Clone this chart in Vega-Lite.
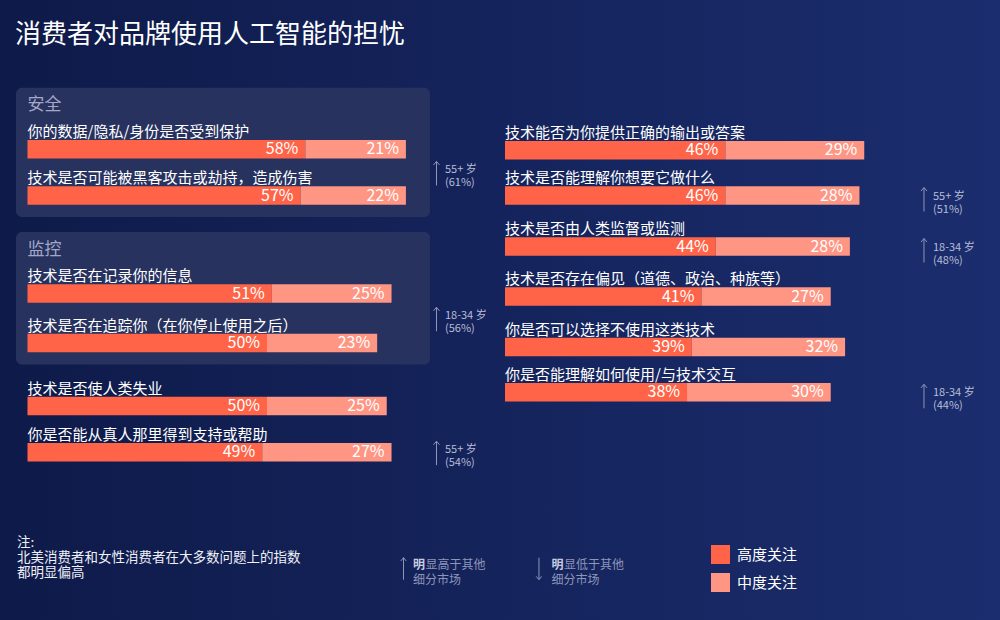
{
  "$schema": "https://vega.github.io/schema/vega-lite/v6.json",
  "width": 1000,
  "height": 620,
  "autosize": "none",
  "padding": 0,
  "background": "#13215a",
  "view": {"fill": {"gradient": "linear", "x1": 0, "y1": 0, "x2": 1, "y2": 0, "stops": [{"offset": 0, "color": "#0e1a49"}, {"offset": 1, "color": "#1b2d6e"}]}, "stroke": null},
  "title": {"text": "消费者对品牌使用人工智能的担忧", "anchor": "start", "frame": "group", "dx": 15, "fontSize": 26, "fontWeight": "normal", "color": "#ffffff", "font": "Noto Sans CJK SC", "baseline": "middle", "offset": -61},
  "config": {"axis": {"disable": true}, "font": "Noto Sans CJK SC", "text": {"font": "Noto Sans CJK SC"}},
  "datasets": {
    "leftItems": [
      {"i": 0, "q": "你的数据/隐私/身份是否受到保护", "lvl": "高度关注", "v": 0.58},
      {"i": 0, "q": "你的数据/隐私/身份是否受到保护", "lvl": "中度关注", "v": 0.21},
      {"i": 1, "q": "技术是否可能被黑客攻击或劫持，造成伤害", "lvl": "高度关注", "v": 0.57},
      {"i": 1, "q": "技术是否可能被黑客攻击或劫持，造成伤害", "lvl": "中度关注", "v": 0.22},
      {"i": 2, "q": "技术是否在记录你的信息", "lvl": "高度关注", "v": 0.51},
      {"i": 2, "q": "技术是否在记录你的信息", "lvl": "中度关注", "v": 0.25},
      {"i": 3, "q": "技术是否在追踪你（在你停止使用之后）", "lvl": "高度关注", "v": 0.50},
      {"i": 3, "q": "技术是否在追踪你（在你停止使用之后）", "lvl": "中度关注", "v": 0.23},
      {"i": 4, "q": "技术是否使人类失业", "lvl": "高度关注", "v": 0.50},
      {"i": 4, "q": "技术是否使人类失业", "lvl": "中度关注", "v": 0.25},
      {"i": 5, "q": "你是否能从真人那里得到支持或帮助", "lvl": "高度关注", "v": 0.49},
      {"i": 5, "q": "你是否能从真人那里得到支持或帮助", "lvl": "中度关注", "v": 0.27}
    ],
    "rightItems": [
      {"i": 0, "q": "技术能否为你提供正确的输出或答案", "lvl": "高度关注", "v": 0.46},
      {"i": 0, "q": "技术能否为你提供正确的输出或答案", "lvl": "中度关注", "v": 0.29},
      {"i": 1, "q": "技术是否能理解你想要它做什么", "lvl": "高度关注", "v": 0.46},
      {"i": 1, "q": "技术是否能理解你想要它做什么", "lvl": "中度关注", "v": 0.28},
      {"i": 2, "q": "技术是否由人类监督或监测", "lvl": "高度关注", "v": 0.44},
      {"i": 2, "q": "技术是否由人类监督或监测", "lvl": "中度关注", "v": 0.28},
      {"i": 3, "q": "技术是否存在偏见（道德、政治、种族等）", "lvl": "高度关注", "v": 0.41},
      {"i": 3, "q": "技术是否存在偏见（道德、政治、种族等）", "lvl": "中度关注", "v": 0.27},
      {"i": 4, "q": "你是否可以选择不使用这类技术", "lvl": "高度关注", "v": 0.39},
      {"i": 4, "q": "你是否可以选择不使用这类技术", "lvl": "中度关注", "v": 0.32},
      {"i": 5, "q": "你是否能理解如何使用/与技术交互", "lvl": "高度关注", "v": 0.38},
      {"i": 5, "q": "你是否能理解如何使用/与技术交互", "lvl": "中度关注", "v": 0.30}
    ],
    "boxes": [
      {"g": "安全", "from": 0, "to": 1},
      {"g": "监控", "from": 2, "to": 3}
    ],
    "leftNotes": [
      {"i": 0.5, "t": ["55+ 岁", "(61%)"]},
      {"i": 2.5, "t": ["18-34 岁", "(56%)"]},
      {"i": 5, "t": ["55+ 岁", "(54%)"]}
    ],
    "rightNotes": [
      {"i": 1, "t": ["55+ 岁", "(51%)"]},
      {"i": 2, "t": ["18-34 岁", "(48%)"]},
      {"i": 5, "t": ["18-34 岁", "(44%)"]}
    ]
  },
  "layer": [
    {
      "layer": [
        {
          "data": {"name": "boxes"},
          "mark": {"type": "rect", "fill": "#27325f", "cornerRadius": 6, "yOffset": -61.5, "y2Offset": 21.5},
          "encoding": {
            "x": {"datum": -0.024, "type": "quantitative", "scale": {"type": "linear", "domain": [-0.05741, 2.0303], "range": [0, 1000], "nice": false, "zero": false}},
            "x2": {"datum": 0.8403},
            "y": {"field": "from", "type": "quantitative", "scale": {"type": "linear", "domain": [0, 1, 2, 3, 4, 5], "range": [145.5, 195.5, 293.5, 343, 406, 456], "nice": false, "zero": false}},
            "y2": {"field": "to"}
          }
        },
        {
          "data": {"name": "boxes"},
          "mark": {"type": "text", "align": "left", "baseline": "middle", "fontSize": 17, "color": "#a3a8c8", "dy": -44},
          "encoding": {
            "x": {"datum": 0, "type": "quantitative", "scale": {"type": "linear", "domain": [-0.05741, 2.0303], "range": [0, 1000], "nice": false, "zero": false}},
            "y": {"field": "from", "type": "quantitative", "scale": {"type": "linear", "domain": [0, 1, 2, 3, 4, 5], "range": [145.5, 195.5, 293.5, 343, 406, 456], "nice": false, "zero": false}},
            "text": {"field": "g"}
          }
        },
        {
          "data": {"name": "leftItems"},
          "mark": {"type": "bar", "orient": "horizontal", "height": 18.5},
          "encoding": {
            "x": {"field": "v", "type": "quantitative", "stack": "zero", "scale": {"type": "linear", "domain": [-0.05741, 2.0303], "range": [0, 1000], "nice": false, "zero": false}},
            "y": {"field": "i", "type": "quantitative", "scale": {"type": "linear", "domain": [0, 1, 2, 3, 4, 5], "range": [145.5, 195.5, 293.5, 343, 406, 456], "nice": false, "zero": false}},
            "color": {"field": "lvl", "type": "nominal", "scale": {"domain": ["高度关注", "中度关注"], "range": ["#ff6448", "#ff9583"]}, "legend": {"title": null, "orient": "none", "legendX": 711, "legendY": 545, "direction": "vertical", "symbolType": "square", "symbolSize": 361, "symbolStrokeWidth": 0, "symbolOpacity": 1, "labelFontSize": 15, "labelColor": "#ffffff", "labelFont": "Noto Sans CJK SC", "rowPadding": 9, "labelOffset": 7, "padding": 0}},
            "order": {"field": "lvl", "sort": "descending"}
          }
        },
        {
          "data": {"name": "leftItems"},
          "transform": [{"filter": {"field": "lvl", "equal": "高度关注"}}],
          "mark": {"type": "text", "align": "left", "baseline": "middle", "fontSize": 15, "color": "#ffffff", "dy": -17.5},
          "encoding": {
            "x": {"datum": 0, "type": "quantitative", "scale": {"type": "linear", "domain": [-0.05741, 2.0303], "range": [0, 1000], "nice": false, "zero": false}},
            "y": {"field": "i", "type": "quantitative", "scale": {"type": "linear", "domain": [0, 1, 2, 3, 4, 5], "range": [145.5, 195.5, 293.5, 343, 406, 456], "nice": false, "zero": false}},
            "text": {"field": "q"}
          }
        },
        {
          "data": {"name": "leftItems"},
          "mark": {"type": "text", "align": "right", "baseline": "middle", "fontSize": 16, "color": "#ffffff", "dx": -7},
          "encoding": {
            "x": {"field": "v", "type": "quantitative", "stack": "zero", "scale": {"type": "linear", "domain": [-0.05741, 2.0303], "range": [0, 1000], "nice": false, "zero": false}},
            "y": {"field": "i", "type": "quantitative", "scale": {"type": "linear", "domain": [0, 1, 2, 3, 4, 5], "range": [145.5, 195.5, 293.5, 343, 406, 456], "nice": false, "zero": false}},
            "detail": {"field": "lvl"},
            "order": {"field": "lvl", "sort": "descending"},
            "text": {"field": "v", "type": "quantitative", "format": ".0%"}
          }
        },
        {
          "data": {"name": "leftNotes"},
          "mark": {"type": "point", "shape": "M0,-1L0,1M-0.25,-0.7L0,-1L0.25,-0.7", "filled": false, "stroke": "#8f95b8", "strokeWidth": 1, "size": 576, "opacity": 1, "yOffset": 1},
          "encoding": {
            "x": {"datum": 0.8539, "type": "quantitative", "scale": {"type": "linear", "domain": [-0.05741, 2.0303], "range": [0, 1000], "nice": false, "zero": false}},
            "y": {"field": "i", "type": "quantitative", "scale": {"type": "linear", "domain": [0, 1, 2, 3, 4, 5], "range": [145.5, 195.5, 293.5, 343, 406, 456], "nice": false, "zero": false}}
          }
        },
        {
          "data": {"name": "leftNotes"},
          "mark": {"type": "text", "align": "left", "baseline": "middle", "fontSize": 11, "lineHeight": 13, "lineBreak": "\n", "color": "#b8bcd6", "dy": -2},
          "encoding": {
            "x": {"datum": 0.8716, "type": "quantitative", "scale": {"type": "linear", "domain": [-0.05741, 2.0303], "range": [0, 1000], "nice": false, "zero": false}},
            "y": {"field": "i", "type": "quantitative", "scale": {"type": "linear", "domain": [0, 1, 2, 3, 4, 5], "range": [145.5, 195.5, 293.5, 343, 406, 456], "nice": false, "zero": false}},
            "text": {"field": "t"}
          }
        },
        {
          "data": {"values": [{"t": ["注:", "北美消费者和女性消费者在大多数问题上的指数", "都明显偏高"]}]},
          "mark": {"type": "text", "align": "left", "baseline": "middle", "fontSize": 13.5, "lineHeight": 15, "lineBreak": "\n", "color": "#eef0f7", "dy": 90.7},
          "encoding": {
            "x": {"datum": -0.0219, "type": "quantitative", "scale": {"type": "linear", "domain": [-0.05741, 2.0303], "range": [0, 1000], "nice": false, "zero": false}},
            "y": {"datum": 5, "type": "quantitative", "scale": {"type": "linear", "domain": [0, 1, 2, 3, 4, 5], "range": [145.5, 195.5, 293.5, 343, 406, 456], "nice": false, "zero": false}},
            "text": {"field": "t"}
          }
        },
        {
          "data": {"values": [{"k": "高于"}]},
          "mark": {"type": "point", "shape": "M0,-1L0,1M-0.25,-0.7L0,-1L0.25,-0.7", "filled": false, "stroke": "#8f95b8", "strokeWidth": 1, "size": 484, "opacity": 1, "yOffset": 116.5},
          "encoding": {
            "x": {"datum": 0.785, "type": "quantitative", "scale": {"type": "linear", "domain": [-0.05741, 2.0303], "range": [0, 1000], "nice": false, "zero": false}},
            "y": {"datum": 5, "type": "quantitative", "scale": {"type": "linear", "domain": [0, 1, 2, 3, 4, 5], "range": [145.5, 195.5, 293.5, 343, 406, 456], "nice": false, "zero": false}}
          }
        },
        {
          "data": {"values": [{"t": "明"}]},
          "mark": {"type": "text", "align": "left", "baseline": "middle", "fontSize": 12, "fontWeight": "bold", "color": "#c9cce0", "dy": 113},
          "encoding": {
            "x": {"datum": 0.8048, "type": "quantitative", "scale": {"type": "linear", "domain": [-0.05741, 2.0303], "range": [0, 1000], "nice": false, "zero": false}},
            "y": {"datum": 5, "type": "quantitative", "scale": {"type": "linear", "domain": [0, 1, 2, 3, 4, 5], "range": [145.5, 195.5, 293.5, 343, 406, 456], "nice": false, "zero": false}},
            "text": {"field": "t"}
          }
        },
        {
          "data": {"values": [{"t": "显高于其他"}]},
          "mark": {"type": "text", "align": "left", "baseline": "middle", "fontSize": 12, "color": "#8f95b8", "dy": 113, "dx": 12.5},
          "encoding": {
            "x": {"datum": 0.8048, "type": "quantitative", "scale": {"type": "linear", "domain": [-0.05741, 2.0303], "range": [0, 1000], "nice": false, "zero": false}},
            "y": {"datum": 5, "type": "quantitative", "scale": {"type": "linear", "domain": [0, 1, 2, 3, 4, 5], "range": [145.5, 195.5, 293.5, 343, 406, 456], "nice": false, "zero": false}},
            "text": {"field": "t"}
          }
        },
        {
          "data": {"values": [{"t": "细分市场"}]},
          "mark": {"type": "text", "align": "left", "baseline": "middle", "fontSize": 12, "color": "#8f95b8", "dy": 128},
          "encoding": {
            "x": {"datum": 0.8048, "type": "quantitative", "scale": {"type": "linear", "domain": [-0.05741, 2.0303], "range": [0, 1000], "nice": false, "zero": false}},
            "y": {"datum": 5, "type": "quantitative", "scale": {"type": "linear", "domain": [0, 1, 2, 3, 4, 5], "range": [145.5, 195.5, 293.5, 343, 406, 456], "nice": false, "zero": false}},
            "text": {"field": "t"}
          }
        },
        {
          "data": {"values": [{"k": "低于"}]},
          "mark": {"type": "point", "shape": "M0,-1L0,1M-0.25,0.7L0,1L0.25,0.7", "filled": false, "stroke": "#8f95b8", "strokeWidth": 1, "size": 484, "opacity": 1, "yOffset": 116.5},
          "encoding": {
            "x": {"datum": 1.0678, "type": "quantitative", "scale": {"type": "linear", "domain": [-0.05741, 2.0303], "range": [0, 1000], "nice": false, "zero": false}},
            "y": {"datum": 5, "type": "quantitative", "scale": {"type": "linear", "domain": [0, 1, 2, 3, 4, 5], "range": [145.5, 195.5, 293.5, 343, 406, 456], "nice": false, "zero": false}}
          }
        },
        {
          "data": {"values": [{"t": "明"}]},
          "mark": {"type": "text", "align": "left", "baseline": "middle", "fontSize": 12, "fontWeight": "bold", "color": "#c9cce0", "dy": 113},
          "encoding": {
            "x": {"datum": 1.0942, "type": "quantitative", "scale": {"type": "linear", "domain": [-0.05741, 2.0303], "range": [0, 1000], "nice": false, "zero": false}},
            "y": {"datum": 5, "type": "quantitative", "scale": {"type": "linear", "domain": [0, 1, 2, 3, 4, 5], "range": [145.5, 195.5, 293.5, 343, 406, 456], "nice": false, "zero": false}},
            "text": {"field": "t"}
          }
        },
        {
          "data": {"values": [{"t": "显低于其他"}]},
          "mark": {"type": "text", "align": "left", "baseline": "middle", "fontSize": 12, "color": "#8f95b8", "dy": 113, "dx": 12.5},
          "encoding": {
            "x": {"datum": 1.0942, "type": "quantitative", "scale": {"type": "linear", "domain": [-0.05741, 2.0303], "range": [0, 1000], "nice": false, "zero": false}},
            "y": {"datum": 5, "type": "quantitative", "scale": {"type": "linear", "domain": [0, 1, 2, 3, 4, 5], "range": [145.5, 195.5, 293.5, 343, 406, 456], "nice": false, "zero": false}},
            "text": {"field": "t"}
          }
        },
        {
          "data": {"values": [{"t": "细分市场"}]},
          "mark": {"type": "text", "align": "left", "baseline": "middle", "fontSize": 12, "color": "#8f95b8", "dy": 128},
          "encoding": {
            "x": {"datum": 1.0942, "type": "quantitative", "scale": {"type": "linear", "domain": [-0.05741, 2.0303], "range": [0, 1000], "nice": false, "zero": false}},
            "y": {"datum": 5, "type": "quantitative", "scale": {"type": "linear", "domain": [0, 1, 2, 3, 4, 5], "range": [145.5, 195.5, 293.5, 343, 406, 456], "nice": false, "zero": false}},
            "text": {"field": "t"}
          }
        }
      ]
    },
    {
      "layer": [
        {
          "data": {"name": "rightItems"},
          "mark": {"type": "bar", "orient": "horizontal", "height": 18.5},
          "encoding": {
            "x": {"field": "v", "type": "quantitative", "stack": "zero", "scale": {"type": "linear", "domain": [-1.05428, 1.0334], "range": [0, 1000], "nice": false, "zero": false}},
            "y": {"field": "i", "type": "quantitative", "scale": {"type": "linear", "domain": [0, 1, 2, 3, 4, 5], "range": [145.5, 195.5, 246.5, 296.5, 347, 397], "nice": false, "zero": false}},
            "color": {"field": "lvl", "type": "nominal", "scale": {"domain": ["高度关注", "中度关注"], "range": ["#ff6448", "#ff9583"]}, "legend": {"title": null, "orient": "none", "legendX": 711, "legendY": 545, "direction": "vertical", "symbolType": "square", "symbolSize": 361, "symbolStrokeWidth": 0, "symbolOpacity": 1, "labelFontSize": 15, "labelColor": "#ffffff", "labelFont": "Noto Sans CJK SC", "rowPadding": 9, "labelOffset": 7, "padding": 0}},
            "order": {"field": "lvl", "sort": "descending"}
          }
        },
        {
          "data": {"name": "rightItems"},
          "transform": [{"filter": {"field": "lvl", "equal": "高度关注"}}],
          "mark": {"type": "text", "align": "left", "baseline": "middle", "fontSize": 15, "color": "#ffffff", "dy": -17.5},
          "encoding": {
            "x": {"datum": 0, "type": "quantitative", "scale": {"type": "linear", "domain": [-1.05428, 1.0334], "range": [0, 1000], "nice": false, "zero": false}},
            "y": {"field": "i", "type": "quantitative", "scale": {"type": "linear", "domain": [0, 1, 2, 3, 4, 5], "range": [145.5, 195.5, 246.5, 296.5, 347, 397], "nice": false, "zero": false}},
            "text": {"field": "q"}
          }
        },
        {
          "data": {"name": "rightItems"},
          "mark": {"type": "text", "align": "right", "baseline": "middle", "fontSize": 16, "color": "#ffffff", "dx": -7},
          "encoding": {
            "x": {"field": "v", "type": "quantitative", "stack": "zero", "scale": {"type": "linear", "domain": [-1.05428, 1.0334], "range": [0, 1000], "nice": false, "zero": false}},
            "y": {"field": "i", "type": "quantitative", "scale": {"type": "linear", "domain": [0, 1, 2, 3, 4, 5], "range": [145.5, 195.5, 246.5, 296.5, 347, 397], "nice": false, "zero": false}},
            "detail": {"field": "lvl"},
            "order": {"field": "lvl", "sort": "descending"},
            "text": {"field": "v", "type": "quantitative", "format": ".0%"}
          }
        },
        {
          "data": {"name": "rightNotes"},
          "mark": {"type": "point", "shape": "M0,-1L0,1M-0.25,-0.7L0,-1L0.25,-0.7", "filled": false, "stroke": "#8f95b8", "strokeWidth": 1, "size": 576, "opacity": 1, "yOffset": 4},
          "encoding": {
            "x": {"datum": 0.8747, "type": "quantitative", "scale": {"type": "linear", "domain": [-1.05428, 1.0334], "range": [0, 1000], "nice": false, "zero": false}},
            "y": {"field": "i", "type": "quantitative", "scale": {"type": "linear", "domain": [0, 1, 2, 3, 4, 5], "range": [145.5, 195.5, 246.5, 296.5, 347, 397], "nice": false, "zero": false}}
          }
        },
        {
          "data": {"name": "rightNotes"},
          "mark": {"type": "text", "align": "left", "baseline": "middle", "fontSize": 11, "lineHeight": 13, "lineBreak": "\n", "color": "#b8bcd6", "dy": 1},
          "encoding": {
            "x": {"datum": 0.8935, "type": "quantitative", "scale": {"type": "linear", "domain": [-1.05428, 1.0334], "range": [0, 1000], "nice": false, "zero": false}},
            "y": {"field": "i", "type": "quantitative", "scale": {"type": "linear", "domain": [0, 1, 2, 3, 4, 5], "range": [145.5, 195.5, 246.5, 296.5, 347, 397], "nice": false, "zero": false}},
            "text": {"field": "t"}
          }
        }
      ]
    }
  ],
  "resolve": {"scale": {"x": "independent", "y": "independent"}}
}
